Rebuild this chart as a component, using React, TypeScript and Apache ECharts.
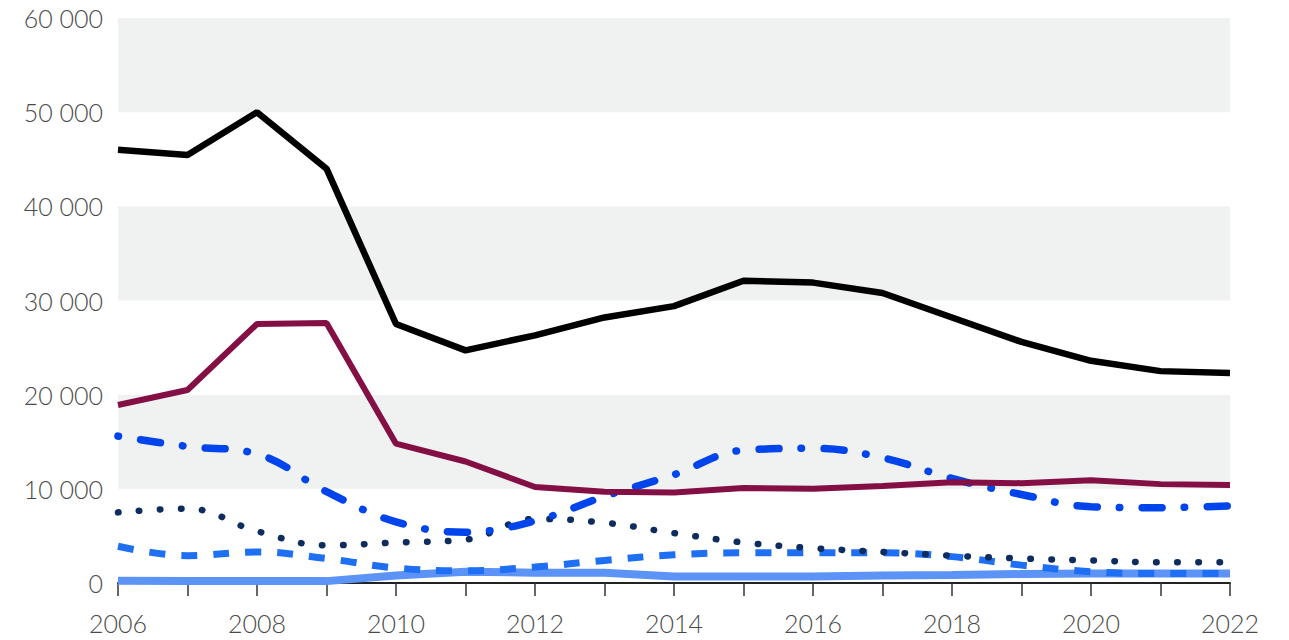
import React, { useEffect, useRef } from "react";
import * as echarts from "echarts";

const years = ["2006","2007","2008","2009","2010","2011","2012","2013","2014","2015","2016","2017","2018","2019","2020","2021","2022"];
const blackSeries = [46000, 45450, 50000, 44000, 27500, 24700, 26300, 28200, 29400, 32100, 31900, 30800, 28200, 25600, 23600, 22500, 22300];
const maroonSeries = [18900, 20500, 27500, 27600, 14800, 12900, 10200, 9700, 9600, 10100, 10000, 10300, 10700, 10600, 10900, 10500, 10400];
const dashDotSeries = [15600, 14500, 13700, 9700, 6500, 5400, 6600, 9200, 11500, 14100, 14300, 13300, 11100, 9400, 8100, 8000, 8200];
const dottedSeries = [7500, 7900, 5500, 4000, 4300, 4600, 6800, 6400, 5300, 4300, 3700, 3300, 2900, 2600, 2400, 2200, 2200];
const dashedSeries = [3900, 2900, 3300, 2600, 1600, 1300, 1700, 2400, 3000, 3200, 3200, 3200, 2800, 1900, 1200, 1000, 1000];
const lightSeries = [250, 200, 200, 200, 800, 1200, 1100, 1100, 700, 700, 700, 800, 850, 950, 1000, 1000, 1000];
const yTicks = [0, 10000, 20000, 30000, 40000, 50000, 60000];

export default function App() {
  const ref = useRef<HTMLDivElement>(null);
  useEffect(() => {
    const chart = echarts.init(ref.current!, null, { renderer: "svg" });
    const font = "Lato, 'Noto Sans', sans-serif";
    chart.setOption({
      animation: false,
      grid: { left: 118, right: 59, top: 18, bottom: 57, containLabel: false },
      xAxis: {
        type: "category",
        data: years,
        boundaryGap: false,
        axisLine: { show: true, lineStyle: { color: "#222", width: 2 } },
        axisTick: { show: true, length: 13, interval: 0, lineStyle: { color: "#333", width: 1.5 } },
        axisLabel: { interval: 1, color: "#4a4a4a", fontSize: 25, fontFamily: font, fontWeight: 300, margin: 27 },
        splitLine: { show: false },
      },
      yAxis: {
        type: "value",
        min: yTicks[0],
        max: yTicks[yTicks.length - 1],
        interval: 10000,
        axisLine: { show: false },
        axisTick: { show: false },
        axisLabel: {
          color: "#4a4a4a",
          fontSize: 25,
          fontFamily: font,
          fontWeight: 300,
          margin: 15,
          formatter: (v: number) => v.toString().replace(/\B(?=(\d{3})+(?!\d))/g, " "),
        },
        splitLine: { show: false },
        splitArea: { show: true, areaStyle: { color: ["#ffffff", "#f0f1f1"] } },
      },
      series: [
        {
          type: "line", data: lightSeries, symbol: "none", z: 2,
          lineStyle: { color: "#5b93f7", width: 8 },
        },
        {
          type: "line", data: dashedSeries, symbol: "none", smooth: 0.4, z: 3,
          lineStyle: { color: "#1f6ff5", width: 7, type: [16, 16], cap: "butt" },
        },
        {
          type: "line", data: dottedSeries, symbol: "none", smooth: 0.4, z: 4,
          lineStyle: { color: "#0e2c5e", width: 6.5, type: [0.5, 20.5], cap: "round" },
        },
        {
          type: "line", data: dashDotSeries, symbol: "none", smooth: 0.4, z: 5,
          lineStyle: { color: "#0044ee", width: 7.5, type: [20, 22, 0.5, 22.5], dashOffset: 42, cap: "round" },
        },
        {
          type: "line", data: maroonSeries, symbol: "none", z: 6,
          lineStyle: { color: "#840f45", width: 6 },
        },
        {
          type: "line", data: blackSeries, symbol: "none", z: 7,
          lineStyle: { color: "#000000", width: 6.5 },
        },
      ],
    });
    return () => chart.dispose();
  }, []);
  return <div ref={ref} style={{ width: 1289, height: 640, position: "absolute", left: 0, top: 0 }} />;
}
